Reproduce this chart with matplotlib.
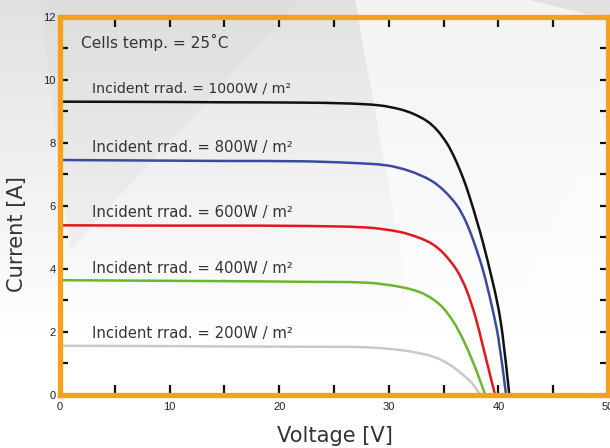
import matplotlib
matplotlib.use("Agg")
import matplotlib.pyplot as plt
import numpy as np
from matplotlib.patches import Polygon, PathPatch
from matplotlib.path import Path
from matplotlib.ticker import MultipleLocator

# ---- data ----
v_1000 = [0, 10, 15, 21.9, 26.5, 29.2, 31.0, 32.2, 33.5, 34.4, 35.3, 36.0, 36.8, 37.4, 38.0,
          38.6, 39.4, 40.0, 40.4, 41.0]
i_1000 = [9.30, 9.29, 9.28, 9.27, 9.24, 9.18, 9.06, 8.92, 8.68, 8.40, 7.98, 7.52, 6.86, 6.25, 5.56,
          4.82, 3.70, 2.75, 1.85, 0.0]
v_800 = [0, 10, 15, 21.9, 26.5, 29.8, 31.9, 33.8, 35.0, 36.2, 37.0, 37.7, 38.6, 39.4, 40.0, 40.7]
i_800 = [7.45, 7.43, 7.42, 7.41, 7.36, 7.28, 7.10, 6.81, 6.49, 6.02, 5.52, 4.91, 3.95, 2.82, 1.80, 0.0]
v_600 = [0, 10, 15, 21.9, 28.0, 31.0, 32.8, 34.0, 35.0, 36.2, 37.1, 37.9, 38.6, 39.2, 39.7]
i_600 = [5.38, 5.37, 5.37, 5.36, 5.31, 5.17, 4.98, 4.78, 4.49, 3.96, 3.32, 2.48, 1.53, 0.69, 0.0]
v_400 = [0, 10, 15, 21.9, 28.0, 31.0, 33.1, 34.7, 35.9, 36.8, 37.6, 38.2, 38.8]
i_400 = [3.64, 3.62, 3.61, 3.59, 3.56, 3.43, 3.22, 2.85, 2.32, 1.74, 1.11, 0.58, 0.0]
v_200 = [0, 10, 15, 21.9, 28.0, 31.6, 34.1, 35.6, 36.8, 37.6, 38.35]
i_200 = [1.56, 1.55, 1.54, 1.53, 1.51, 1.40, 1.21, 0.95, 0.63, 0.37, 0.0]

series_labels = ["Incident rrad. = 1000W / m²", "Incident rrad. = 800W / m²",
                 "Incident rrad. = 600W / m²", "Incident rrad. = 400W / m²",
                 "Incident rrad. = 200W / m²"]
label_y = [9.73, 7.86, 5.79, 4.02, 1.96]
series_colors = ["#111111", "#3a4a9e", "#e3161c", "#6cb52d", "#c9c9c9"]
title_text = "Cells temp. = 25˚C"
x_ticks = [0, 10, 20, 30, 40, 50]
y_ticks = [0, 2, 4, 6, 8, 10, 12]

W, H = 610, 448
fig = plt.figure(figsize=(W / 100, H / 100), dpi=100)

# background: vertical gradient + light diagonal shapes (pixel coords, y down)
bg = fig.add_axes([0, 0, 1, 1], zorder=-10)
g = np.clip(np.linspace(0.0, 1.0, 256) / 0.75, 0, 1).reshape(-1, 1)
top_c = np.array([0.885, 0.885, 0.885])
bot_c = np.array([1.0, 1.0, 1.0])
img = top_c[None, None, :] * (1 - g[:, :, None]) + bot_c[None, None, :] * g[:, :, None]
bg.imshow(img, extent=[0, W, H, 0], aspect="auto")


def poly(pts, fc, a):
    bg.add_patch(Polygon(pts, closed=True, facecolor=fc, alpha=a, lw=0))


poly([[40, 0], [300, 0], [70, 250]], "#d0d0d0", 0.2)
poly([[355, 0], [530, 0], [610, 20], [610, 448], [430, 448], [400, 250]], "white", 0.6)
poly([[610, 120], [610, 330], [470, 448], [440, 448]], "white", 0.4)
bg.set_xlim(0, W)
bg.set_ylim(H, 0)
bg.axis("off")

ax = fig.add_axes([60 / W, (H - 395) / H, (608 - 60) / W, (395 - 16.5) / H])
ax.patch.set_alpha(0)
ax.set_xlim(0, 50)
ax.set_ylim(0, 12)

# smooth rendering of the read points (Bezier segments through each point)
SX, SY = 548 / 50, 378.5 / 12


def smooth_path(x, y):
    P = np.column_stack([np.asarray(x, float) * SX, np.asarray(y, float) * SY])
    n = len(P)
    T = np.zeros_like(P)
    for k in range(n):
        if k == 0:
            d = P[1] - P[0]
        elif k == n - 1:
            d = P[-1] - P[-2]
        else:
            d = P[k + 1] - P[k - 1]
        T[k] = d / np.linalg.norm(d)
    verts = [P[0]]
    codes = [Path.MOVETO]
    for k in range(n - 1):
        L = np.linalg.norm(P[k + 1] - P[k])
        verts += [P[k] + T[k] * L / 3, P[k + 1] - T[k + 1] * L / 3, P[k + 1]]
        codes += [Path.CURVE4] * 3
    verts = np.array(verts) / [SX, SY]
    return Path(verts, codes)


for v, i, c in zip([v_1000, v_800, v_600, v_400, v_200],
                   [i_1000, i_800, i_600, i_400, i_200], series_colors):
    ax.add_patch(PathPatch(smooth_path(v, i), facecolor="none", edgecolor=c, lw=1.8,
                           capstyle="butt", zorder=3))

ax.set_xticks(x_ticks)
ax.set_yticks(y_ticks)
ax.xaxis.set_minor_locator(MultipleLocator(5))
ax.yaxis.set_minor_locator(MultipleLocator(1))

for s in ax.spines.values():
    s.set_color("#f5a11c")
    s.set_linewidth(3.8)
    s.set_zorder(4)

ax.tick_params(axis="both", which="both", direction="in", color="#111111",
               width=1.6, top=True, right=True, labelsize=8, labelcolor="#222222")
ax.tick_params(axis="x", which="both", length=7, pad=5)
ax.tick_params(axis="y", which="both", length=6, pad=3)
for t in ax.get_xticklabels() + ax.get_yticklabels():
    t.set_fontfamily("Liberation Sans")

txt_font = "DejaVu Sans"
texts = []
for lab, y in zip(series_labels, label_y):
    t = ax.text(2.9, y, lab, fontsize=10, color="#333333", va="center", ha="left",
                family=txt_font)
    texts.append((t, 199))
t0 = ax.text(1.9, 11.19, title_text, fontsize=11, color="#333333", va="center", ha="left",
             family=txt_font)
texts.append((t0, 148))

xl = fig.text(335 / W, 1 - 436 / H, "Voltage [V]", fontsize=15, color="#333333",
              ha="center", va="center", family=txt_font)
yl = fig.text(17 / W, 1 - 234 / H, "Current [A]", fontsize=15, color="#333333",
              ha="center", va="center", rotation=90, family=txt_font)
texts.append((xl, 116))

fig.canvas.draw()
r = fig.canvas.get_renderer()
for t, target in texts:
    w = t.get_window_extent(r).width
    t.set_fontsize(t.get_fontsize() * target / w)
yl.set_fontsize(xl.get_fontsize())

fig.savefig("out.png", dpi=100)
